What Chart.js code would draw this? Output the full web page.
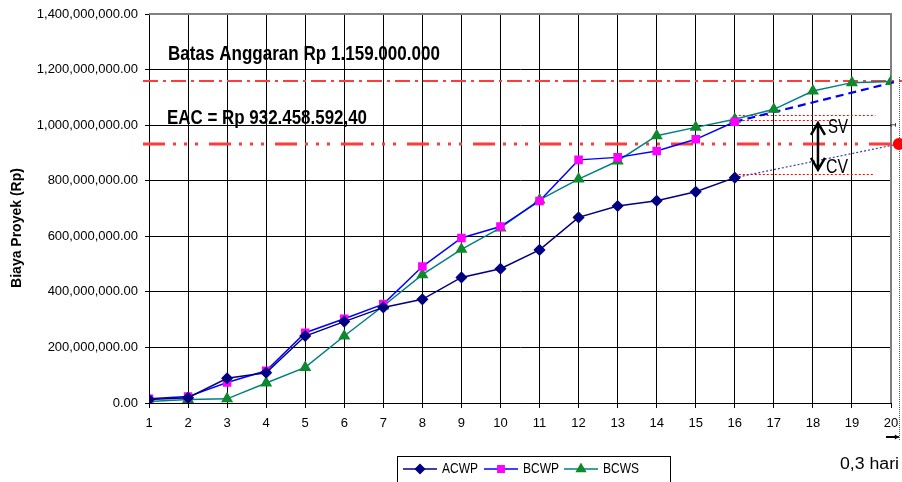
<!DOCTYPE html>
<html>
<head>
<meta charset="utf-8">
<script src="https://cdn.jsdelivr.net/npm/chart.js@4/dist/chart.umd.min.js"></script>
<style>
  html, body { margin: 0; padding: 0; background: #fff; }
  #wrap { width: 902px; height: 482px; }
</style>
</head>
<body>
<div id="wrap"><canvas id="c" width="902" height="482"></canvas></div>
<script>
// Project days (hari)
const days = [1, 2, 3, 4, 5, 6, 7, 8, 9, 10, 11, 12, 13, 14, 15, 16, 17, 18, 19, 20];

// Earned value series (Rp)
const acwp = [13e6, 19e6, 89e6, 109e6, 241e6, 293e6, 344e6, 373e6, 452e6, 483e6,
              551e6, 668e6, 709e6, 728e6, 760e6, 811e6];
const bcwp = [15e6, 23e6, 74e6, 116e6, 253e6, 303e6, 356e6, 491e6, 594e6, 635e6,
              727e6, 875e6, 884e6, 907e6, 949e6, 1012e6];
const bcws = [5e6, 13e6, 15e6, 72e6, 128e6, 241e6, 349e6, 462e6, 553e6, 630e6,
              731e6, 806e6, 871e6, 962e6, 992e6, 1021e6, 1057e6, 1123e6, 1153e6, 1157e6];

// Budget limit and estimate at completion
const budget = 1159000000;
const eac = 932458592.40;
const finishDay = 20.2;          // day 20 + 0,3 hari lateness marker

// Reference levels for schedule / cost variance at day 16
const varianceLevels = [
  { y: 1036e6, from: 16, to: 19.6 },
  { y: 1018e6, from: 16, to: 18.57 },
  { y: 824e6,  from: 16, to: 19.55 }
];
const arrowDay = 18.13;
const arrowTop = 1008e6;
const arrowBottom = 839e6;

// Y tick values
const yTicks = [0, 200e6, 400e6, 600e6, 800e6, 1000e6, 1200e6, 1400e6];

const seriesNames = ['ACWP', 'BCWP', 'BCWS'];

const toXY = arr => arr.map((v, i) => ({ x: days[i], y: v }));

const FONT = "'Liberation Sans', Arial, sans-serif";

// Draws text squeezed horizontally to a given width (condensed look)
function fillTextW(ctx, text, x, y, width) {
  const w = ctx.measureText(text).width;
  ctx.save();
  ctx.translate(x, y);
  ctx.scale(width / w, 1);
  ctx.fillText(text, 0, 0);
  ctx.restore();
}

const overlay = {
  id: 'overlay',
  beforeDatasetsDraw(chart) {
    const { ctx, chartArea: a, scales: { x, y } } = chart;
    ctx.save();
    // top and right frame of plot
    ctx.strokeStyle = '#808080';
    ctx.lineWidth = 2;
    ctx.beginPath();
    ctx.moveTo(a.left, a.top); ctx.lineTo(a.right, a.top); ctx.lineTo(a.right, a.bottom);
    ctx.stroke();

    // budget limit line
    ctx.strokeStyle = '#ff3b3b';
    ctx.lineWidth = 2;
    ctx.setLineDash([15, 5, 3, 5]);
    const yb = y.getPixelForValue(budget);
    ctx.beginPath(); ctx.moveTo(a.left - 6, yb); ctx.lineTo(902, yb); ctx.stroke();

    // EAC line
    ctx.lineWidth = 3;
    ctx.setLineDash([22, 8, 3, 8, 3, 8, 3, 11]);
    const ye = y.getPixelForValue(eac);
    ctx.beginPath(); ctx.moveTo(a.left - 6, ye); ctx.lineTo(902, ye); ctx.stroke();

    // variance reference lines
    ctx.strokeStyle = '#ff0000';
    ctx.lineWidth = 1;
    ctx.setLineDash([2, 2]);
    varianceLevels.forEach(l => {
      const py = Math.round(y.getPixelForValue(l.y)) + 0.5;
      ctx.beginPath();
      ctx.moveTo(x.getPixelForValue(l.from), py);
      ctx.lineTo(x.getPixelForValue(l.to), py);
      ctx.stroke();
    });

    // finish-day marker
    const xf = Math.round(x.getPixelForValue(finishDay)) + 0.5;
    ctx.strokeStyle = '#555';
    ctx.lineWidth = 1;
    ctx.setLineDash([1, 1]);
    ctx.beginPath(); ctx.moveTo(xf, yb - 4); ctx.lineTo(xf, 440); ctx.stroke();
    ctx.restore();
  },
  afterDatasetsDraw(chart) {
    const { ctx, chartArea: a, scales: { x, y } } = chart;
    ctx.save();
    // EAC end point
    ctx.fillStyle = '#ff0000';
    ctx.beginPath();
    ctx.arc(x.getPixelForValue(finishDay), y.getPixelForValue(eac), 6, 0, Math.PI * 2);
    ctx.fill();

    // y axis title
    ctx.fillStyle = '#000';
    ctx.save();
    ctx.translate(17, 228);
    ctx.rotate(-Math.PI / 2);
    ctx.font = "bold 14px " + FONT;
    ctx.textAlign = 'center';
    ctx.textBaseline = 'middle';
    ctx.fillText('Biaya Proyek (Rp)', 0, 0);
    ctx.restore();

    // titles
    ctx.textBaseline = 'alphabetic';
    ctx.font = "bold 21px " + FONT;
    fillTextW(ctx, 'Batas Anggaran Rp 1.159.000.000', 168, 60, 272);
    ctx.font = "bold 20px " + FONT;
    fillTextW(ctx, 'EAC = Rp 932.458.592,40', 167, 124, 200);

    // SV / CV double arrow
    const ax = x.getPixelForValue(arrowDay);
    const at = y.getPixelForValue(arrowTop);
    const ab = y.getPixelForValue(arrowBottom);
    ctx.strokeStyle = '#000';
    ctx.lineWidth = 2.5;
    ctx.beginPath();
    ctx.moveTo(ax, at); ctx.lineTo(ax, ab);
    ctx.moveTo(ax - 7, at + 12); ctx.lineTo(ax, at); ctx.lineTo(ax + 7, at + 12);
    ctx.moveTo(ax - 7, ab - 12); ctx.lineTo(ax, ab); ctx.lineTo(ax + 7, ab - 12);
    ctx.stroke();
    ctx.font = "20px " + FONT;
    fillTextW(ctx, 'SV', ax + 10, 133, 20);
    fillTextW(ctx, 'CV', ax + 8, 173, 22);

    // small rotated label at right edge
    ctx.save();
    ctx.translate(a.right + 5, 125);
    ctx.rotate(-Math.PI / 2);
    ctx.font = "9px " + FONT;
    ctx.textAlign = 'center';
    ctx.fillText('1', 0, 0);
    ctx.restore();

    // lateness arrow and label
    const xf = x.getPixelForValue(finishDay);
    ctx.lineWidth = 2;
    ctx.beginPath(); ctx.moveTo(a.right - 5, 437); ctx.lineTo(xf, 437); ctx.stroke();
    ctx.beginPath();
    ctx.moveTo(xf, 437); ctx.lineTo(xf - 4, 434.5); ctx.lineTo(xf - 4, 439.5); ctx.closePath();
    ctx.fill();
    ctx.font = "16px " + FONT;
    ctx.textBaseline = 'middle';
    fillTextW(ctx, '0,3 hari', 840, 465, 59);

    // legend
    ctx.lineWidth = 1;
    ctx.strokeStyle = '#000';
    ctx.strokeRect(397.5, 456.5, 273, 30);
    const ly = 469;
    const starts = [403, 484, 564];
    starts.forEach((sx, i) => {
      const ds = chart.data.datasets[i];
      ctx.strokeStyle = ds.borderColor;
      ctx.lineWidth = 1.5;
      ctx.beginPath(); ctx.moveTo(sx, ly); ctx.lineTo(sx + 34, ly); ctx.stroke();
      ctx.fillStyle = ds.pointBackgroundColor;
      ctx.strokeStyle = ds.pointBorderColor;
      Chart.helpers.drawPoint(ctx, {
        pointStyle: ds.pointStyle, radius: ds.pointRadius - 0.5, borderWidth: 1, rotation: 0
      }, sx + 17, ly);
      ctx.fillStyle = '#000';
      ctx.font = "14px " + FONT;
      fillTextW(ctx, ds.label, sx + 39, ly, 36);
    });
    ctx.restore();
  }
};

new Chart(document.getElementById('c'), {
  type: 'line',
  data: {
    datasets: [
      {
        label: seriesNames[0], data: toXY(acwp),
        borderColor: '#000080', backgroundColor: '#000080', borderWidth: 1.5,
        pointStyle: 'rectRot', pointRadius: 5, pointBackgroundColor: '#000080',
        pointBorderColor: '#000080', tension: 0
      },
      {
        label: seriesNames[1], data: toXY(bcwp),
        borderColor: '#0000ff', backgroundColor: '#ff00ff', borderWidth: 1.5,
        pointStyle: 'rect', pointRadius: 5, pointBackgroundColor: '#ff00ff',
        pointBorderColor: '#ff00ff', tension: 0
      },
      {
        label: seriesNames[2], data: toXY(bcws),
        borderColor: '#008080', backgroundColor: '#0e8a2e', borderWidth: 1.5,
        pointStyle: 'triangle', pointRadius: 5.5, pointBackgroundColor: '#0e8a2e',
        pointBorderColor: '#0e8a2e', tension: 0
      },
      {
        label: 'BCWP forecast',
        data: [{ x: days[bcwp.length - 1], y: bcwp[bcwp.length - 1] }, { x: finishDay, y: budget }],
        borderColor: '#0000ff', borderWidth: 2.2, borderDash: [8, 5],
        pointRadius: 0, clip: false, tension: 0
      },
      {
        label: 'ACWP forecast',
        data: [{ x: days[acwp.length - 1], y: acwp[acwp.length - 1] }, { x: finishDay, y: eac }],
        borderColor: '#3a3ab0', borderWidth: 1.2, borderDash: [2, 2],
        pointRadius: 0, clip: false, tension: 0
      }
    ]
  },
  options: {
    responsive: false,
    animation: false,
    devicePixelRatio: 1,
    layout: { padding: { left: 0, right: 11, top: 14, bottom: 0 } },
    plugins: { legend: { display: false }, tooltip: { enabled: false } },
    scales: {
      x: {
        type: 'linear', min: 1, max: 20,
        afterFit: s => { s.height = 79; s.paddingLeft = 0; s.paddingRight = 0; },
        grid: { color: '#000', lineWidth: 1, tickLength: 5, tickColor: '#000' },
        border: { color: '#000', width: 1 },
        ticks: {
          stepSize: 1, padding: 8, color: '#000', maxRotation: 0,
          font: { family: FONT, size: 13 },
          callback: v => String(v)
        }
      },
      y: {
        min: 0, max: 1400e6,
        afterFit: s => { s.width = 149; s.paddingTop = 0; s.paddingBottom = 0; },
        afterBuildTicks: s => { s.ticks = yTicks.map(v => ({ value: v })); },
        grid: { color: '#000', lineWidth: 1, tickLength: 4, tickColor: '#000' },
        border: { color: '#000', width: 1 },
        ticks: {
          padding: 7, color: '#000',
          font: { family: FONT, size: 13 },
          callback: v => Number(v).toLocaleString('en-US', { minimumFractionDigits: 2, maximumFractionDigits: 2 })
        }
      }
    }
  },
  plugins: [overlay]
});
</script>
</body>
</html>
